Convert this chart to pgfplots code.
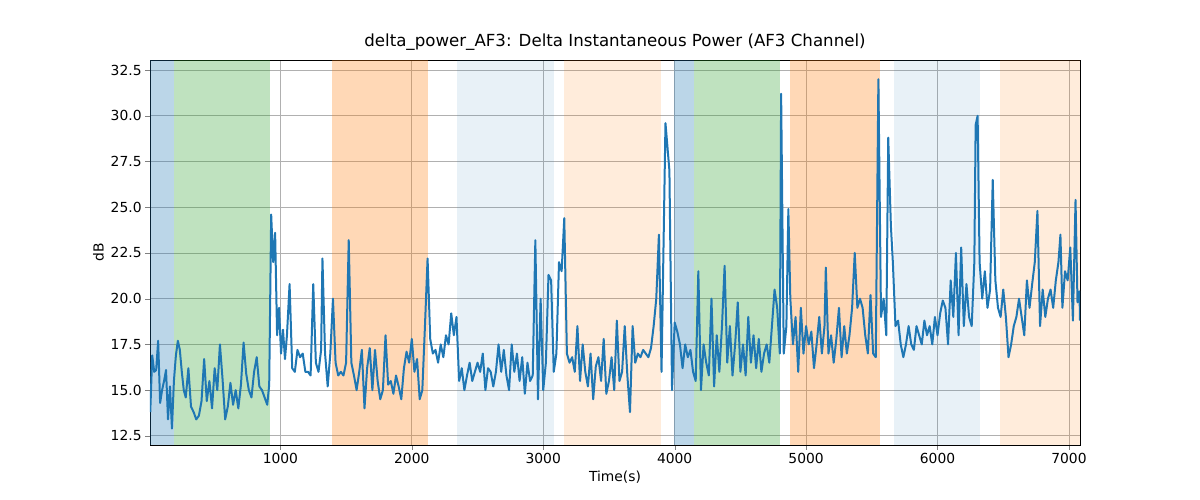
\documentclass[border=0pt]{standalone}
\usepackage{pgfplots}
\pgfplotsset{compat=1.18}
\usepackage{fontspec}
\setmainfont{DejaVu Sans}
\definecolor{tb}{HTML}{1F77B4}
\definecolor{tg}{HTML}{2CA02C}
\definecolor{to}{HTML}{FF7F0E}
\definecolor{gridc}{HTML}{B0B0B0}
\begin{document}
\begin{tikzpicture}
\begin{axis}[scale only axis,width=930bp,height=385bp,
 xmin=8,xmax=7084,ymin=12,ymax=33.05,
 xtick={1000,2000,3000,4000,5000,6000,7000},
 ytick={12.5,15,17.5,20,22.5,25,27.5,30,32.5},
 xticklabel style={/pgf/number format/.cd,1000 sep={}},
 yticklabel style={/pgf/number format/.cd,fixed,fixed zerofill,precision=1},
 tick align=outside,xtick pos=bottom,ytick pos=left,major tick length=4.9bp,
 grid=major,grid style={gridc,line width=0.8bp},
 title={delta\_power\_AF3: Delta Instantaneous Power (AF3 Channel)},
 title style={font=\fontsize{16.7}{19}\selectfont},
 xlabel={Time(s)},ylabel={dB},
 tick label style={font=\fontsize{13.9}{16}\selectfont},label style={font=\fontsize{13.9}{16}\selectfont},
 /pgf/number format/assume math mode=true]
\def\reg#1#2#3#4{\addplot[draw=none,fill=#3,fill opacity=#4,forget plot] coordinates {(#1,12) (#1,33.05) (#2,33.05) (#2,12)} -- cycle;}
\reg{8}{190}{tb}{0.3}
\reg{190}{924}{tg}{0.3}
\reg{1389}{2122}{to}{0.3}
\reg{2344}{3084}{tb}{0.1}
\reg{3160}{3893}{to}{0.15}
\reg{3992}{4145}{tb}{0.3}
\reg{4145}{4802}{tg}{0.3}
\reg{4878}{5565}{to}{0.3}
\reg{5672}{6321}{tb}{0.1}
\reg{6473}{7084}{to}{0.15}
\addplot[tb,line width=2bp,line join=round] coordinates {
(10,13.8)(25,16.9)(40,16.0)(55,16.1)(70,17.7)(85,14.3)(100,15.0)(115,15.5)(130,16.1)(145,13.4)(160,15.2)(175,12.9)(190,15.5)(205,16.9)(220,17.7)(235,17.2)(250,16.0)(265,15.0)(280,14.6)(300,16.2)(320,14.1)(340,13.8)(360,13.4)(380,13.6)(400,14.4)(420,16.7)(440,14.4)(460,15.5)(480,14.0)(500,16.2)(520,15.0)(540,17.5)(560,15.6)(580,13.4)(600,14.1)(620,15.4)(640,14.2)(660,15.0)(680,14.0)(700,15.3)(720,17.6)(740,15.9)(760,15.0)(780,14.6)(800,16.0)(820,16.8)(840,15.2)(860,15.0)(880,14.6)(900,14.2)(915,15.3)(930,24.6)(945,22.0)(960,23.6)(975,18.0)(990,19.5)(1005,17.0)(1020,18.3)(1035,16.7)(1050,18.0)(1070,20.8)(1090,16.2)(1110,16.0)(1130,17.2)(1150,16.8)(1170,17.0)(1190,16.0)(1210,16.0)(1230,15.8)(1250,20.8)(1270,16.5)(1290,16.0)(1310,17.2)(1320,22.2)(1340,17.0)(1360,15.2)(1380,17.0)(1400,20.0)(1420,16.5)(1440,15.8)(1460,16.0)(1480,15.8)(1500,16.5)(1520,23.2)(1540,16.5)(1560,15.8)(1580,15.0)(1600,16.0)(1620,17.2)(1640,14.0)(1660,16.2)(1680,17.3)(1700,15.0)(1720,17.2)(1740,15.5)(1760,14.5)(1780,15.0)(1800,18.0)(1820,15.3)(1840,15.5)(1860,14.8)(1880,15.8)(1900,15.2)(1920,14.5)(1940,16.2)(1960,17.1)(1980,16.5)(2000,17.8)(2020,16.0)(2040,16.7)(2060,14.5)(2080,15.0)(2100,18.5)(2120,22.2)(2140,17.8)(2160,17.0)(2180,17.2)(2200,16.5)(2220,17.5)(2240,16.8)(2260,18.0)(2280,17.5)(2300,19.2)(2320,18.0)(2340,19.0)(2360,15.5)(2380,16.2)(2400,15.0)(2420,15.8)(2440,16.5)(2460,15.5)(2480,16.0)(2500,16.5)(2520,16.0)(2540,17.0)(2560,15.0)(2580,16.2)(2600,16.0)(2620,15.2)(2640,16.0)(2660,17.5)(2680,16.0)(2700,17.2)(2720,15.8)(2740,15.0)(2760,17.5)(2780,16.0)(2800,17.0)(2820,15.5)(2840,16.8)(2860,14.8)(2880,16.5)(2900,15.5)(2920,15.8)(2940,23.2)(2960,14.5)(2980,20.0)(3000,15.0)(3020,16.5)(3040,21.3)(3060,21.0)(3080,16.0)(3100,17.0)(3120,22.0)(3140,21.5)(3160,24.4)(3180,17.0)(3200,16.5)(3220,16.8)(3240,16.0)(3260,18.5)(3280,15.5)(3300,17.5)(3320,16.0)(3340,15.2)(3360,17.0)(3380,14.5)(3400,16.3)(3420,16.8)(3440,15.5)(3460,17.8)(3480,14.8)(3500,15.5)(3520,16.8)(3540,15.0)(3560,18.8)(3580,15.5)(3600,16.0)(3620,18.5)(3640,15.8)(3660,13.8)(3680,18.5)(3700,16.5)(3720,17.0)(3740,16.8)(3760,17.2)(3780,17.0)(3800,16.8)(3820,17.3)(3840,18.5)(3860,20.0)(3880,23.5)(3900,16.0)(3930,29.6)(3960,27.0)(3980,15.0)(4000,18.7)(4020,18.2)(4040,17.5)(4060,16.2)(4080,17.5)(4100,16.8)(4120,17.2)(4140,16.0)(4160,15.5)(4180,21.5)(4200,15.0)(4220,17.5)(4240,16.5)(4260,15.8)(4280,20.0)(4300,15.2)(4320,18.0)(4340,16.0)(4360,18.5)(4380,21.8)(4400,16.5)(4420,18.5)(4440,15.8)(4460,17.5)(4480,19.8)(4500,16.0)(4520,17.5)(4540,15.8)(4560,19.0)(4580,16.5)(4600,18.0)(4620,16.2)(4640,17.8)(4660,16.0)(4680,17.0)(4700,17.5)(4720,16.5)(4740,18.5)(4760,20.5)(4780,19.5)(4800,17.0)(4810,31.2)(4830,17.0)(4850,18.5)(4865,24.9)(4880,20.0)(4900,17.5)(4920,19.0)(4940,16.0)(4960,19.5)(4980,17.0)(5000,18.5)(5020,17.5)(5040,18.2)(5060,16.2)(5080,17.5)(5100,19.0)(5120,17.0)(5140,18.5)(5150,21.7)(5170,17.0)(5190,18.0)(5210,16.5)(5230,17.8)(5250,19.5)(5270,16.8)(5290,18.5)(5310,17.0)(5330,18.0)(5350,19.5)(5370,22.5)(5390,19.5)(5410,20.0)(5430,19.5)(5450,18.0)(5470,17.0)(5490,20.2)(5510,17.0)(5530,16.8)(5550,32.0)(5570,19.0)(5590,20.0)(5610,18.0)(5625,28.8)(5645,24.0)(5660,22.0)(5680,18.5)(5700,18.8)(5720,17.5)(5740,16.8)(5760,17.5)(5780,18.5)(5800,17.5)(5820,17.2)(5840,18.5)(5860,18.0)(5880,17.5)(5900,18.8)(5920,18.0)(5940,18.5)(5960,17.5)(5980,19.0)(6000,18.0)(6020,19.2)(6040,19.9)(6060,19.5)(6080,17.5)(6100,21.0)(6120,19.0)(6140,22.5)(6160,18.0)(6180,22.8)(6200,18.5)(6220,20.8)(6240,19.0)(6260,18.5)(6280,22.0)(6290,29.5)(6305,30.0)(6320,22.0)(6340,20.0)(6360,21.5)(6380,19.5)(6400,20.5)(6420,26.5)(6440,21.0)(6460,19.5)(6480,19.0)(6500,20.5)(6520,19.0)(6540,16.8)(6560,17.5)(6580,18.5)(6600,19.0)(6620,20.0)(6640,19.0)(6660,18.0)(6680,21.0)(6700,19.5)(6720,20.8)(6740,22.0)(6760,24.8)(6780,18.5)(6800,20.5)(6820,19.0)(6840,20.0)(6860,20.5)(6880,19.5)(6900,21.0)(6920,22.0)(6935,23.5)(6950,19.5)(6970,21.5)(6990,21.0)(7010,22.8)(7030,18.8)(7050,25.4)(7065,19.8)(7080,20.4)(7084,18.8)};
\end{axis}
\useasboundingbox (current axis.south west) ++(-150bp,-55bp) rectangle ++(1200bp,500bp);
\end{tikzpicture}
\end{document}
